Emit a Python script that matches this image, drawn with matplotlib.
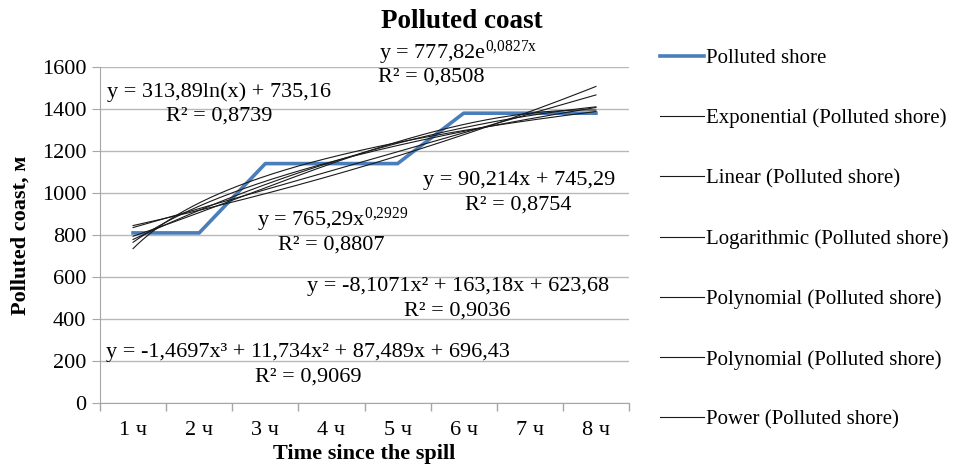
import numpy as np
import matplotlib
matplotlib.use("Agg")
import matplotlib.pyplot as plt

plt.rcParams["font.family"] = ["Liberation Serif", "DejaVu Serif"]
plt.rcParams["mathtext.fontset"] = "custom"
plt.rcParams["mathtext.rm"] = "Liberation Serif"
plt.rcParams["mathtext.it"] = "Liberation Serif"

# data
hours = ["1 ч", "2 ч", "3 ч", "4 ч", "5 ч", "6 ч", "7 ч", "8 ч"]
polluted = [810, 810, 1140, 1140, 1140, 1380, 1380, 1380]

# trendline coefficients as printed on the chart
exp_coef = (777.82, 0.0827)
lin_coef = (90.214, 745.29)
log_coef = (313.89, 735.16)
poly2_coef = (-8.1071, 163.18, 623.68)
poly3_coef = (-1.4697, 11.734, 87.489, 696.43)
pow_coef = (765.29, 0.2929)

trend_names = ["Exponential (Polluted shore)", "Linear (Polluted shore)",
               "Logarithmic (Polluted shore)", "Polynomial (Polluted shore)",
               "Polynomial (Polluted shore)", "Power (Polluted shore)"]

x = np.arange(1, len(hours) + 1)
xs = np.linspace(1, len(hours), 200)
trends = [
    exp_coef[0] * np.exp(exp_coef[1] * xs),
    np.polyval(lin_coef, xs),
    log_coef[0] * np.log(xs) + log_coef[1],
    np.polyval(poly2_coef, xs),
    np.polyval(poly3_coef, xs),
    pow_coef[0] * xs ** pow_coef[1],
]

fig = plt.figure(figsize=(9.59, 4.74), dpi=100)
ax = fig.add_axes([100 / 959, 71 / 474, 529 / 959, 336 / 474])

ax.plot(x, polluted, color="#4A7EBB", lw=2.6, label="Polluted shore", zorder=3)
for yv, name in zip(trends, trend_names):
    ax.plot(xs, yv, color="#1a1a1a", lw=0.8, label=name, zorder=4)

ax.set_xlim(0.5, len(hours) + 0.5)
ax.set_ylim(0, 1600)
ax.set_yticks(range(0, 1601, 200))
ax.set_xticks(x)
ax.set_xticklabels(hours)
ax.set_xticks(np.arange(0.5, len(hours) + 1), minor=True)
ax.tick_params(axis="x", which="major", length=0, pad=13, labelsize=16)
ax.tick_params(axis="x", which="minor", length=6, color="#a6a6a6", width=1)
ax.tick_params(axis="y", length=6, color="#a6a6a6", labelsize=16, pad=4)
ax.grid(axis="y", color="#b8b8b8", lw=1)
ax.set_axisbelow(True)
for s in ["top", "right"]:
    ax.spines[s].set_visible(False)
for s in ["left", "bottom"]:
    ax.spines[s].set_color("#a6a6a6")

ax.set_xlabel("Time since the spill", fontsize=16, fontweight="bold", labelpad=3)
ax.set_ylabel("Polluted coast, м", fontsize=16, fontweight="bold", labelpad=8)
fig.text(0.482, 0.955, "Polluted coast", ha="center", va="center",
         fontsize=19.5, fontweight="bold")

# equation labels
eq = dict(fontsize=16, transform=fig.transFigure, va="center")
def put(px, py, s, ha="left"):
    fig.text(px / 959, 1 - py / 474, s, ha=ha, **eq)

put(458, 53, r"y = 777,82e$^{\mathrm{0{,}0827x}}$", ha="center")
put(431, 77, "R² = 0,8508", ha="center")
put(107, 92, "y = 313,89ln(x) + 735,16")
put(219, 116, "R² = 0,8739", ha="center")
put(423, 180, "y = 90,214x + 745,29")
put(518, 205, "R² = 0,8754", ha="center")
put(257, 220, r"y = 765,29x$^{\mathrm{0{,}2929}}$")
put(331, 245, "R² = 0,8807", ha="center")
put(307, 286, "y = -8,1071x² + 163,18x + 623,68")
put(457, 311, "R² = 0,9036", ha="center")
put(106, 352, "y = -1,4697x³ + 11,734x² + 87,489x + 696,43")
put(308, 377, "R² = 0,9069", ha="center")

fig.legend(loc="upper left", bbox_to_anchor=(652 / 959, 1 - 40 / 474),
           frameon=False, fontsize=15, labelspacing=1.95, handlelength=2.1,
           handletextpad=0.1, borderaxespad=0)

fig.savefig("out.png", dpi=100)
